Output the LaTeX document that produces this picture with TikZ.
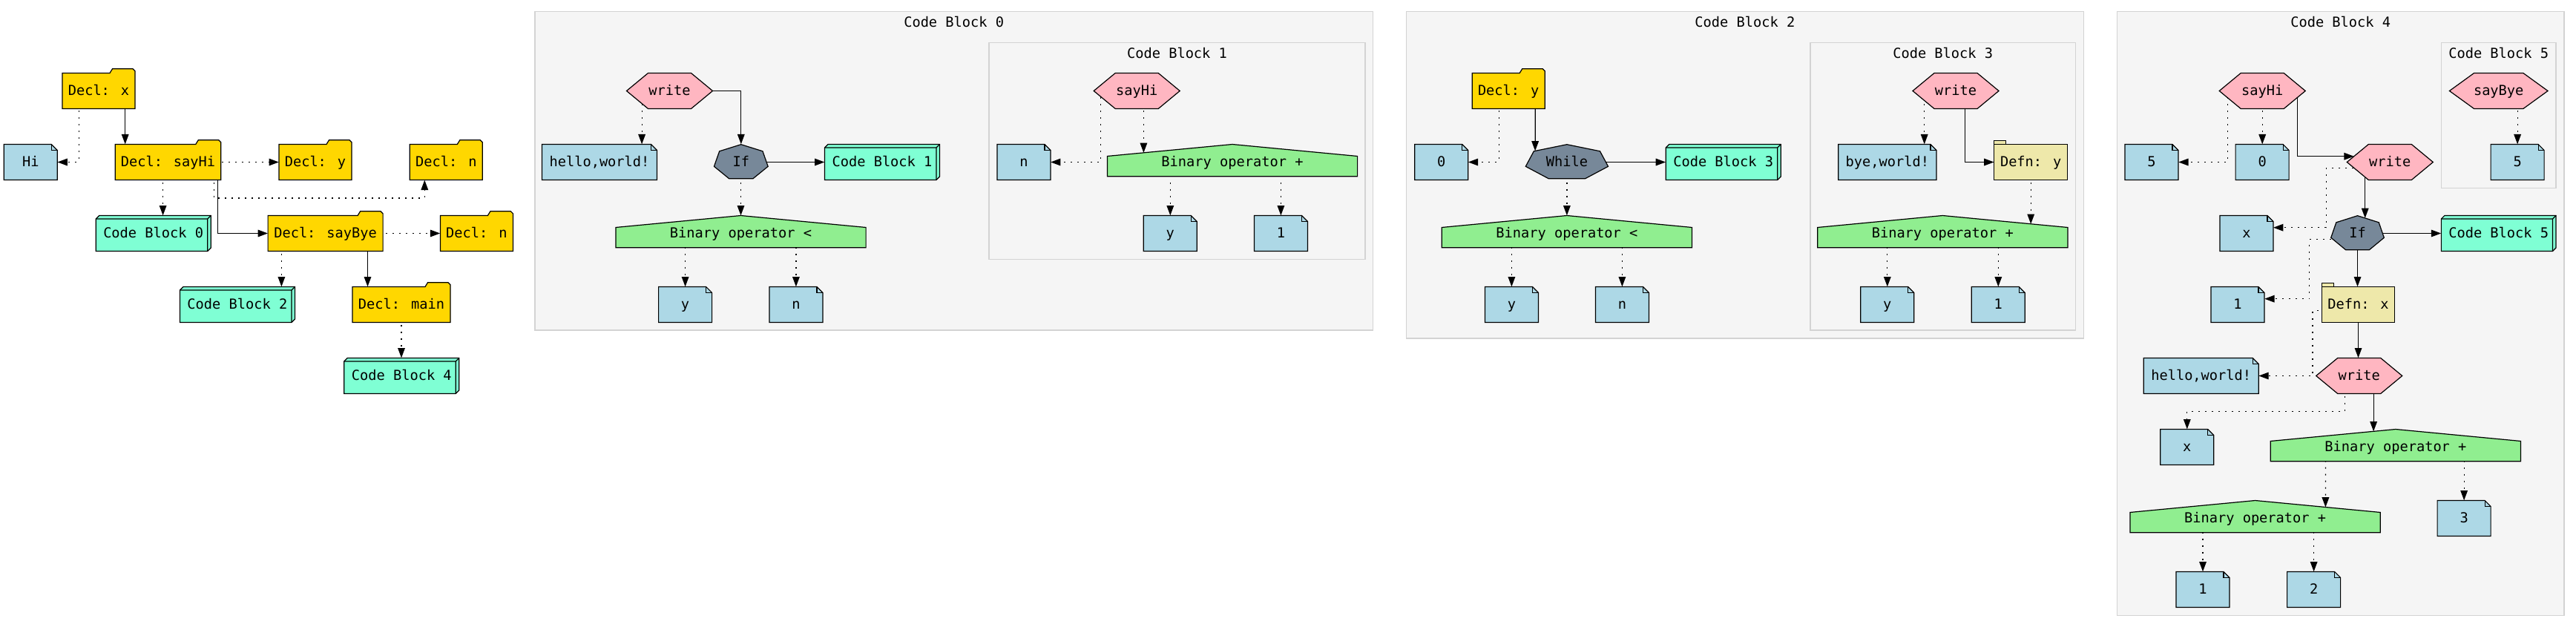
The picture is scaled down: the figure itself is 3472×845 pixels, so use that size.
\documentclass[tikz,border=0pt]{standalone}
\usepackage{fontspec}
\usetikzlibrary{calc,arrows.meta}
\newfontfamily\gvmono{DejaVu Sans Mono}
\newcommand\gvfont{\gvmono\fontsize{18.67pt}{22pt}\selectfont}
\definecolor{gold}{HTML}{FFD700}
\definecolor{lblue}{HTML}{ADD8E6}
\definecolor{aqua}{HTML}{7FFFD4}
\definecolor{pinkc}{HTML}{FFB6C1}
\definecolor{slate}{HTML}{778899}
\definecolor{lgreen}{HTML}{90EE90}
\definecolor{pgold}{HTML}{EEE8AA}
\definecolor{wsmoke}{HTML}{F5F5F5}
\definecolor{lgrey}{HTML}{D3D3D3}
\pgfdeclarelayer{bg}
\pgfdeclarelayer{edges}
\pgfsetlayers{bg,edges,main}
\tikzset{
  nodeline/.style={draw=black, line width=1.2pt},
  lbl/.style={draw=none, inner sep=0pt, minimum height=48pt, font=\gvfont, text height=15pt, text depth=3pt, anchor=center},
  clbl/.style={draw=none, inner sep=0pt, font=\gvfont, text height=15pt, text depth=3pt, anchor=center},
  cl/.style={fill=wsmoke, draw=lgrey, line width=1.3pt},
  solE/.style={draw=black, line width=1.2pt, -{Triangle[length=13.3pt,width=9.6pt]}},
  dotE/.style={solE, dash pattern=on 2pt off 7pt},
}
% #1 name, #2 center x, #3 top y, #4 width, #5 text
\newcommand\gvFolder[5]{%
  \filldraw[nodeline,fill=gold] ({#2-#4/2},#3) -- ({#2+#4/2-34},#3) -- ({#2+#4/2-30.5},{#3-5.7}) -- ({#2+#4/2-3},{#3-5.7}) -- ({#2+#4/2},{#3-2.7}) -- ({#2+#4/2},{#3+48}) -- ({#2-#4/2},{#3+48}) -- cycle;
  \node[lbl,minimum width=#4] (#1) at (#2,{#3+24}) {#5};}
\newcommand\gvNote[5]{%
  \filldraw[nodeline,fill=lblue] ({#2-#4/2},#3) -- ({#2+#4/2-8},#3) -- ({#2+#4/2},{#3+8}) -- ({#2+#4/2},{#3+48}) -- ({#2-#4/2},{#3+48}) -- cycle;
  \draw[nodeline] ({#2+#4/2-8},#3) -- ({#2+#4/2-8},{#3+8}) -- ({#2+#4/2},{#3+8});
  \node[lbl,minimum width=#4] (#1) at (#2,{#3+24}) {#5};}
\newcommand\gvBox[5]{%
  \filldraw[nodeline,fill=aqua] ({#2-#4/2},{#3+4.5}) -- ({#2-#4/2+4.5},#3) -- ({#2+#4/2},#3) -- ({#2+#4/2},{#3+43.5}) -- ({#2+#4/2-4.5},{#3+48}) -- ({#2-#4/2},{#3+48}) -- cycle;
  \draw[nodeline] ({#2-#4/2},{#3+4.5}) -- ({#2+#4/2-4.5},{#3+4.5}) -- ({#2+#4/2-4.5},{#3+48}) ({#2+#4/2-4.5},{#3+4.5}) -- ({#2+#4/2},#3);
  \node[lbl,minimum width=#4] (#1) at (#2,{#3+24}) {#5};}
\newcommand\gvHex[5]{%
  \filldraw[nodeline,fill=pinkc] ({#2-#4/2},{#3+24}) -- ({#2-#4/4},#3) -- ({#2+#4/4},#3) -- ({#2+#4/2},{#3+24}) -- ({#2+#4/4},{#3+48}) -- ({#2-#4/4},{#3+48}) -- cycle;
  \node[lbl,minimum width=#4] (#1) at (#2,{#3+24}) {#5};}
\newcommand\gvSept[5]{%
  \filldraw[nodeline,fill=slate] (#2,{#3+0.2}) -- ({#2+0.401*#4},{#3+9.3}) -- ({#2+#4/2},{#3+29.8}) -- ({#2+0.2225*#4},{#3+46.2}) -- ({#2-0.2225*#4},{#3+46.2}) -- ({#2-#4/2},{#3+29.8}) -- ({#2-0.401*#4},{#3+9.3}) -- cycle;
  \node[lbl,minimum width=#4] (#1) at (#2,{#3+24}) {#5};}
\newcommand\gvHouse[5]{%
  \filldraw[nodeline,fill=lgreen] ({#2-#4/2},{#3+16}) -- (#2,#3) -- ({#2+#4/2},{#3+16}) -- ({#2+#4/2},{#3+43.3}) -- ({#2-#4/2},{#3+43.3}) -- cycle;
  \node[lbl,minimum width=#4] (#1) at (#2,{#3+24}) {#5};}
\newcommand\gvTab[5]{%
  \filldraw[nodeline,fill=pgold] ({#2-#4/2},{#3-5.3}) rectangle ({#2-#4/2+16},#3);
  \filldraw[nodeline,fill=pgold] ({#2-#4/2},#3) rectangle ({#2+#4/2},{#3+48});
  \node[lbl,minimum width=#4] (#1) at (#2,{#3+24}) {#5};}
\begin{document}
\begin{tikzpicture}[x=1pt,y=-1pt]
\useasboundingbox (0,0) rectangle (3472,845);
\begin{pgfonlayer}{bg}
  \fill[white] (0,0) rectangle (3472,845);
  \path[cl] (721,15.7) rectangle (1850.4,445);
  \path[cl] (1333.1,57.3) rectangle (1840,349.3);
  \path[cl] (1895.3,15.7) rectangle (2808.3,456);
  \path[cl] (2440,57.3) rectangle (2797.3,445);
  \path[cl] (2853.3,15.7) rectangle (3456,829.3);
  \path[cl] (3290.3,57.3) rectangle (3445,253.3);
\end{pgfonlayer}
\node[clbl] (c0l) at (1285.7,30.1) {Code Block 0};
\node[clbl] (c1l) at (1586.5,72.1) {Code Block 1};
\node[clbl] (c2l) at (2351.8,30.1) {Code Block 2};
\node[clbl] (c3l) at (2618.7,72.1) {Code Block 3};
\node[clbl] (c4l) at (3154.7,30.1) {Code Block 4};
\node[clbl] (c5l) at (3367.7,72.1) {Code Block 5};
% global
\gvFolder{declx}{133}{98.5}{98}{Decl: x}
\gvNote{hi}{41.3}{194.5}{72}{Hi}
\gvFolder{sayhi}{226.5}{194.5}{142.5}{Decl: sayHi}
\gvFolder{decly}{425}{194.5}{98}{Decl: y}
\gvFolder{decln1}{601.3}{194.5}{98}{Decl: n}
\gvBox{cb0}{206.7}{290.5}{155}{Code Block 0}
\gvFolder{saybye}{438.6}{290.5}{155}{Decl: sayBye}
\gvFolder{decln2}{642.4}{290.5}{98}{Decl: n}
\gvBox{cb2}{319.9}{386.5}{155}{Code Block 2}
\gvFolder{declmain}{541}{386.5}{132}{Decl: main}
\gvBox{cb4}{541.3}{482.5}{155}{Code Block 4}
% code block 0
\gvHex{w0}{902.5}{98.5}{116}{write}
\gvNote{hello0}{808}{194.5}{155}{hello,world!}
\gvSept{if0}{998.8}{194.5}{72.7}{If}
\gvBox{cb1}{1189}{194.5}{155}{Code Block 1}
\gvHouse{bo0}{998.5}{290.5}{337.2}{Binary operator <}
\gvNote{y0}{923.6}{386.5}{72}{y}
\gvNote{n0}{1072.9}{386.5}{72}{n}
% code block 1
\gvHex{sh1}{1532.2}{98.5}{116}{sayHi}
\gvNote{n1}{1379.9}{194.5}{72}{n}
\gvHouse{bo1}{1661}{194.5}{337.2}{Binary operator +}
\gvNote{y1}{1577.3}{290.5}{72}{y}
\gvNote{one1}{1726.4}{290.5}{72}{1}
% code block 2
\gvFolder{dy2}{2033.2}{98.5}{98}{Decl: y}
\gvNote{z2}{1942.7}{194.5}{72}{0}
\gvSept{wh2}{2111.9}{194.5}{111.2}{While}
\gvBox{cb3}{2322.7}{194.5}{155}{Code Block 3}
\gvHouse{bo2}{2111.9}{290.5}{337.2}{Binary operator <}
\gvNote{y2}{2037.4}{386.5}{72}{y}
\gvNote{n2}{2186.4}{386.5}{72}{n}
% code block 3
\gvHex{w3}{2636}{98.5}{116}{write}
\gvNote{bye3}{2543.8}{194.5}{132.3}{bye,world!}
\gvTab{df3}{2737.2}{194.5}{99}{Defn: y}
\gvHouse{bo3}{2618.3}{290.5}{337.2}{Binary operator +}
\gvNote{y3}{2543.8}{386.5}{72}{y}
\gvNote{one3}{2693.3}{386.5}{72}{1}
% code block 4 and 5
\gvHex{sh4}{3049.2}{98.5}{116}{sayHi}
\gvHex{sb5}{3367.7}{98.5}{132.6}{sayBye}
\gvNote{five4}{2900}{194.5}{72}{5}
\gvNote{zero4}{3049.1}{194.5}{72}{0}
\gvHex{w4}{3221.3}{194.5}{116}{write}
\gvNote{five5}{3393.1}{194.5}{72}{5}
\gvNote{x4}{3027.9}{290.5}{72}{x}
\gvSept{if4}{3177.5}{290.5}{71.6}{If}
\gvBox{cb5}{3367.7}{290.5}{154.7}{Code Block 5}
\gvNote{one4}{3016}{386.5}{72}{1}
\gvTab{df4}{3178.5}{386.5}{98.4}{Defn: x}
\gvNote{hello4}{2966.7}{482.5}{155}{hello,world!}
\gvHex{w4b}{3179.7}{482.5}{116}{write}
\gvNote{x4b}{2947.8}{578.5}{72}{x}
\gvHouse{bo4a}{3228.9}{578.5}{337.2}{Binary operator +}
\gvHouse{bo4b}{3039.6}{674.5}{337.2}{Binary operator +}
\gvNote{three4}{3321.1}{674.5}{72}{3}
\gvNote{one4b}{2969}{770.5}{72}{1}
\gvNote{two4b}{3118.6}{770.5}{72}{2}
\begin{pgfonlayer}{edges}
  % global
  \draw[dotE] ([xshift=-26.8pt]declx.center) |- (hi.east);
  \draw[solE] ([xshift=35.7pt]declx.center) -- ([xshift=35.7pt]declx.center |- sayhi.north);
  \draw[dotE] (sayhi.center) -- (decly.west);
  \draw[dotE] ([xshift=62.3pt]sayhi.center) |- ([xshift=-29pt,yshift=-24.2pt]decln1.south) -- ([xshift=-29pt]decln1.south);
  \draw[dotE] ([xshift=-6.9pt]sayhi.center) -- ([xshift=-6.9pt]sayhi.center |- cb0.north);
  \draw[solE] ([xshift=66.8pt]sayhi.center) |- (saybye.west);
  \draw[dotE] (saybye.center) -- (decln2.west);
  \draw[dotE] ([xshift=-59.2pt]saybye.center) -- ([xshift=-59.2pt]saybye.center |- cb2.north);
  \draw[solE] ([xshift=56.9pt]saybye.center) -- ([xshift=56.9pt]saybye.center |- declmain.north);
  \draw[dotE] (declmain.center) -- (declmain.center |- cb4.north);
  % code block 0
  \draw[dotE] ([xshift=-37.4pt]w0.center) -- ([xshift=-37.4pt]w0.center |- hello0.north);
  \draw[solE] (w0.center) -| (if0.north);
  \draw[solE] (if0.center) -- (cb1.west);
  \draw[dotE] (if0.center -| bo0.north) -- (bo0.north);
  \draw[dotE] (bo0.center -| y0.north) -- (y0.north);
  \draw[dotE] (bo0.center -| n0.north) -- (n0.north);
  % code block 1
  \draw[dotE] ([xshift=-48.6pt]sh1.center) |- (n1.east);
  \draw[dotE] ([xshift=9.2pt]sh1.center) -- ($(bo1.center)+(-119.6,-12.6)$);
  \draw[dotE] (bo1.center -| y1.north) -- (y1.north);
  \draw[dotE] (bo1.center -| one1.north) -- (one1.north);
  % code block 2
  \draw[dotE] ([xshift=-13.1pt]dy2.center) |- (z2.east);
  \draw[solE] ([xshift=36.1pt]dy2.center) -- ($(wh2.center)+(-42.8,-15.1)$);
  \draw[solE] (wh2.center) -- (cb3.west);
  \draw[dotE] (wh2.center -| bo2.north) -- (bo2.north);
  \draw[dotE] (bo2.center -| y2.north) -- (y2.north);
  \draw[dotE] (bo2.center -| n2.north) -- (n2.north);
  % code block 3
  \draw[dotE] ([xshift=-42.3pt]w3.center) -- ([xshift=-42.3pt]w3.center |- bye3.north);
  \draw[solE] ([xshift=12.7pt]w3.center) |- (df3.west);
  \draw[dotE] (df3.center) -- ($(bo3.center)+(118.9,-12.7)$);
  \draw[dotE] (bo3.center -| y3.north) -- (y3.north);
  \draw[dotE] (bo3.center -| one3.north) -- (one3.north);
  % code block 4 and 5
  \draw[dotE] ([xshift=-46.5pt]sh4.center) |- (five4.east);
  \draw[dotE] (sh4.center) -- (sh4.center |- zero4.north);
  \draw[solE] ([xshift=47.2pt]sh4.center) |- ($(w4.center)+(-48.6,-7.8)$);
  \draw[dotE] ($(w4.center)+(-40,8.2)$) -| ($(x4.east)+(71.1,-7.8)$) -- ($(x4.east)+(0,-7.8)$);
  \draw[solE] ([xshift=-33.6pt]w4.center) -- ($(if4.center)+(10.2,-20.6)$);
  \draw[solE] (if4.center) -- (cb5.west);
  \draw[dotE] ($(if4.center)+(0,8.2)$) -| ($(one4.east)+(60.3,-7.8)$) -- ($(one4.east)+(0,-7.8)$);
  \draw[solE] (if4.center) -- (if4.center |- df4.north);
  \draw[dotE] ($(df4.center)+(0,7.8)$) -| ([xshift=72.5pt]hello4.east) -- (hello4.east);
  \draw[solE] (df4.center) -- (df4.center |- w4b.north);
  \draw[dotE] ([xshift=-19.1pt]w4b.center) |- ($(x4b.north)+(0,-24.2)$) -- (x4b.north);
  \draw[solE] ([xshift=19.4pt]w4b.center) -- ($(bo4a.center)+(-29.8,-21.2)$);
  \draw[dotE] ([xshift=-94.5pt]bo4a.center) -- ($(bo4b.center)+(94.8,-15)$);
  \draw[dotE] (bo4a.center -| three4.north) -- (three4.north);
  \draw[dotE] (bo4b.center -| one4b.north) -- (one4b.north);
  \draw[dotE] (bo4b.center -| two4b.north) -- (two4b.north);
  \draw[dotE] (sb5.center -| five5.north) -- (five5.north);
\end{pgfonlayer}
\end{tikzpicture}
\end{document}
